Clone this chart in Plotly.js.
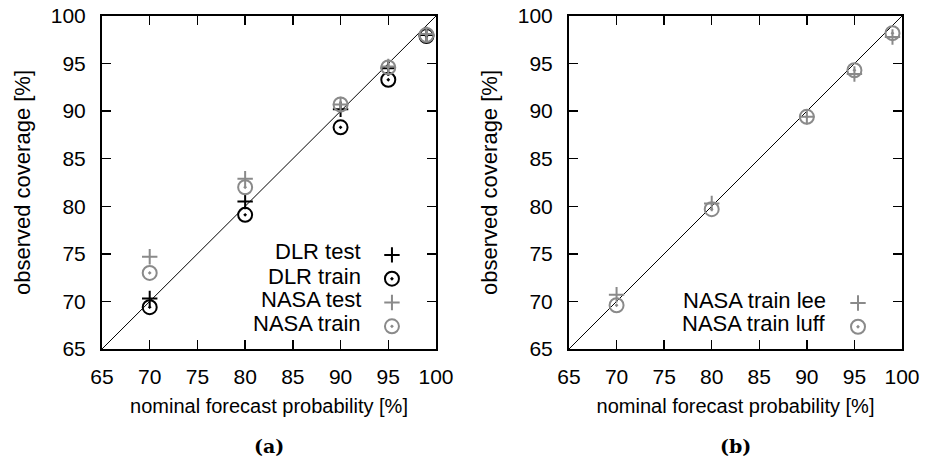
<!DOCTYPE html>
<html>
<head>
<meta charset="utf-8">
<script src="https://cdn.plot.ly/plotly-3.0.1.min.js"></script>
<style>html,body{margin:0;padding:0;background:#fff;}#chart{width:925px;height:468px;}</style>
</head>
<body>
<div id="chart"></div>
<script>
// nominal forecast probabilities [%]
const nominal = [70, 80, 90, 95, 99];
// panel (a)
const dlrTest   = [70.3, 80.5, 90.2, 94.5, 98.0];
const dlrTrain  = [69.4, 79.1, 88.3, 93.3, 97.9];
const nasaTest  = [74.7, 82.9, 90.7, 94.7, 98.1];
const nasaTrain = [73.0, 82.0, 90.7, 94.6, 98.0];
// panel (b)
const nasaTrainLee  = [70.7, 80.3, 89.4, 93.9, 97.8];
const nasaTrainLuff = [69.6, 79.7, 89.4, 94.3, 98.2];
// identity line
const diag = [65, 100];
const ticks = [65, 70, 75, 80, 85, 90, 95, 100];
const legendA = ['DLR test', 'DLR train', 'NASA test', 'NASA train'];
const legendB = ['NASA train lee', 'NASA train luff'];

const BLACK = '#000000';
const GRAY = '#8a8a8a';
const FONT = 'Liberation Sans, Arial, Helvetica, sans-serif';

function plusTrace(x, y, color, xa, ya, leg) {
  return {x: x, y: y, type: 'scatter', mode: 'markers', name: ' ', xaxis: xa, yaxis: ya, legend: leg,
    marker: {symbol: 'cross-thin-open', size: 11, color: color, line: {color: color, width: 2}},
    hoverinfo: 'x+y'};
}
function circTrace(x, y, color, xa, ya, leg) {
  return {x: x, y: y, type: 'scatter', mode: 'markers', name: ' ', xaxis: xa, yaxis: ya, legend: leg,
    marker: {symbol: 'circle-open-dot', size: 14, color: color, line: {color: color, width: 2}},
    hoverinfo: 'x+y'};
}
function diagTrace(xa, ya) {
  return {x: diag, y: diag, type: 'scatter', mode: 'lines', xaxis: xa, yaxis: ya, showlegend: false,
    line: {color: BLACK, width: 1}, hoverinfo: 'skip'};
}

const data = [
  diagTrace('x', 'y'),
  plusTrace(nominal, dlrTest, BLACK, 'x', 'y', 'legend'),
  circTrace(nominal, dlrTrain, BLACK, 'x', 'y', 'legend'),
  plusTrace(nominal, nasaTest, GRAY, 'x', 'y', 'legend'),
  circTrace(nominal, nasaTrain, GRAY, 'x', 'y', 'legend'),
  diagTrace('x2', 'y2'),
  plusTrace(nominal, nasaTrainLee, GRAY, 'x2', 'y2', 'legend2'),
  circTrace(nominal, nasaTrainLuff, GRAY, 'x2', 'y2', 'legend2')
];

function axis(extra) {
  return Object.assign({
    range: [65, 100], tickvals: ticks, ticktext: ticks.map(String),
    ticks: 'inside', ticklen: 9, tickwidth: 1.5, tickcolor: BLACK,
    showline: true, linewidth: 2, linecolor: BLACK, mirror: 'ticks',
    showgrid: false, zeroline: false, fixedrange: true,
    tickfont: {family: FONT, size: 21, color: BLACK}
  }, extra);
}
const xTitleFont = {family: FONT, size: 20, color: BLACK};
const yTitleFont = {family: FONT, size: 22, color: BLACK};
const legFont = {family: FONT, size: 22, color: BLACK};

const annotations = [];
legendA.forEach((t, i) => annotations.push({
  text: t, xref: 'x domain', yref: 'y domain', x: 0.7814, y: [0.2922, 0.2192, 0.1492, 0.0772][i],
  xanchor: 'right', yanchor: 'middle', showarrow: false, font: legFont
}));
legendB.forEach((t, i) => annotations.push({
  text: t, xref: 'x2 domain', yref: 'y2 domain', x: 0.7778, y: [0.1471, 0.0772][i],
  xanchor: 'right', yanchor: 'middle', showarrow: false, font: legFont
}));
annotations.push({text: '<b>(a)</b>', xref: 'x domain', yref: 'y domain', x: 0.5, y: -0.29,
  xanchor: 'center', yanchor: 'middle', showarrow: false, font: {family: 'DejaVu Serif, serif', size: 19, color: BLACK}});
annotations.push({text: '<b>(b)</b>', xref: 'x2 domain', yref: 'y2 domain', x: 0.5, y: -0.29,
  xanchor: 'center', yanchor: 'middle', showarrow: false, font: {family: 'DejaVu Serif, serif', size: 19, color: BLACK}});

const layout = {
  width: 925, height: 468,
  margin: {l: 60, r: 15, t: 16, b: 119},
  paper_bgcolor: '#ffffff', plot_bgcolor: '#ffffff',
  showlegend: true,
  xaxis: axis({domain: [0.04941, 0.44235], anchor: 'y', ticklabelstandoff: 8,
    title: {text: 'nominal forecast probability [%]', font: xTitleFont, standoff: 12}}),
  yaxis: axis({domain: [0, 1], anchor: 'x', ticklabelstandoff: 10,
    title: {text: 'observed coverage [%]', font: yTitleFont, standoff: 14}}),
  xaxis2: axis({domain: [0.59882, 0.99059], anchor: 'y2', ticklabelstandoff: 8,
    title: {text: 'nominal forecast probability [%]', font: xTitleFont, standoff: 12}}),
  yaxis2: axis({domain: [0, 1], anchor: 'x2', ticklabelstandoff: 10,
    title: {text: 'observed coverage [%]', font: yTitleFont, standoff: 14}}),
  legend: {x: 0.367, y: 0.3333, xanchor: 'left', yanchor: 'top', bgcolor: 'rgba(0,0,0,0)',
    font: {family: FONT, size: 16}, tracegroupgap: 0},
  legend2: {x: 0.9153, y: 0.189, xanchor: 'left', yanchor: 'top', bgcolor: 'rgba(0,0,0,0)',
    font: {family: FONT, size: 16}, tracegroupgap: 0},
  annotations: annotations
};

Plotly.newPlot('chart', data, layout, {displayModeBar: false, staticPlot: true});
</script>
</body>
</html>
